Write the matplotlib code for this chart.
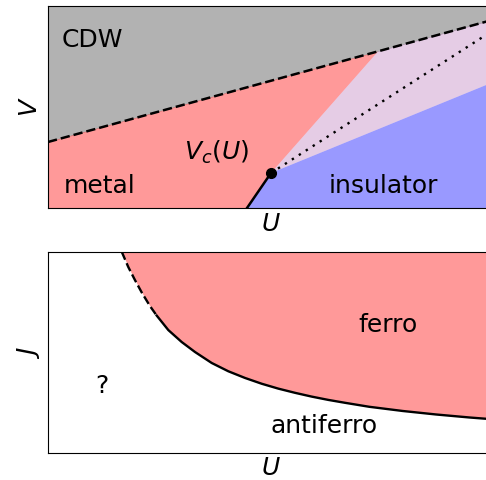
import numpy as np
import matplotlib
matplotlib.use("Agg")
import matplotlib.pyplot as plt

# top panel: V-U phase diagram (arbitrary units)
U_cdw = [0.0, 4.46]          # dashed CDW boundary
V_cdw = [0.66, 1.885]
U_mit = [1.99, 2.23]         # first order metal-insulator line
V_mit = [0.0, 0.35]
U_crit, V_crit = 2.23, 0.35  # critical end point
U_split, V_split = 3.30, 1.565   # where the metal region meets the CDW line
U_dot = [2.23, 4.46]         # dotted crossover
V_dot = [0.35, 1.782]
U_ins = [2.23, 4.46]         # upper edge of the insulator
V_ins = [0.35, 1.262]

# bottom panel: ferro / antiferro boundary
U_fm = [0.737, 0.803, 0.87, 0.937, 1.02, 1.087, 1.203, 1.337, 1.47, 1.637,
        1.803, 1.97, 2.137, 2.303, 2.47, 2.637, 2.803, 2.97, 3.213, 3.547,
        3.88, 4.213, 4.38, 4.46]
J_fm = [2.02, 1.866, 1.735, 1.612, 1.475, 1.38, 1.235, 1.115, 1.015, 0.905,
        0.822, 0.755, 0.697, 0.648, 0.606, 0.568, 0.535, 0.506, 0.466, 0.424,
        0.389, 0.359, 0.346, 0.340]
n_dash = 6

xmax, ymax = 4.46, 2.02
fs = 18

fig = plt.figure(figsize=(4.86, 4.8), dpi=100)
ax1 = fig.add_axes([48/486, 272/480, 446/486, 202/480])
ax2 = fig.add_axes([48/486, 26.7/480, 446/486, 201.6/480])

# regions
ax1.fill_between(U_cdw, V_cdw, ymax, color='k', alpha=0.3, lw=0)
ax1.fill([0, U_mit[0], U_crit, U_split, 0], [0, V_mit[0], V_crit, V_split, V_cdw[0]],
         color='r', alpha=0.4, lw=0)
ax1.fill([U_crit, U_split, U_cdw[1], U_ins[1]], [V_crit, V_split, V_cdw[1], V_ins[1]],
         color='purple', alpha=0.2, lw=0)
ax1.fill([U_mit[0], xmax, U_ins[1], U_crit], [0, 0, V_ins[1], V_crit],
         color='b', alpha=0.4, lw=0)

ax1.plot(U_cdw, V_cdw, 'k--', lw=1.8)
ax1.plot(U_mit, V_mit, 'k-', lw=1.8)
ax1.plot(U_dot, V_dot, color='k', ls=(0, (1, 2.5)), lw=1.7)
ax1.plot(U_crit, V_crit, 'ko', ms=7)

ax1.text(0.137, 1.613, 'CDW', fontsize=fs)
ax1.text(0.153, 0.153, 'metal', fontsize=fs)
ax1.text(2.803, 0.153, 'insulator', fontsize=fs)
ax1.text(1.363, 0.48, '$V_c(U)$', fontsize=fs)

ax1.set_xlim(0, xmax)
ax1.set_ylim(0, ymax)
ax1.set_xticks([])
ax1.set_yticks([])
ax1.set_xlabel('$U$', fontsize=fs, labelpad=3)
ax1.set_ylabel('$V$', fontsize=fs)

ax2.fill_between(U_fm, J_fm, ymax, color='r', alpha=0.4, lw=0)
ax2.plot(U_fm[:n_dash], J_fm[:n_dash], 'k--', lw=1.7)
ax2.plot(U_fm[n_dash-1:], J_fm[n_dash-1:], 'k-', lw=1.7, solid_joinstyle='round')

ax2.text(3.103, 1.216, 'ferro', fontsize=fs)
ax2.text(0.47, 0.606, '?', fontsize=fs)
ax2.text(2.22, 0.20, 'antiferro', fontsize=fs)

ax2.set_xlim(0, xmax)
ax2.set_ylim(0, ymax)
ax2.set_xticks([])
ax2.set_yticks([])
ax2.set_xlabel('$U$', fontsize=fs, labelpad=2)
ax2.set_ylabel('$J$', fontsize=fs)

fig.savefig('out.png', dpi=100)
